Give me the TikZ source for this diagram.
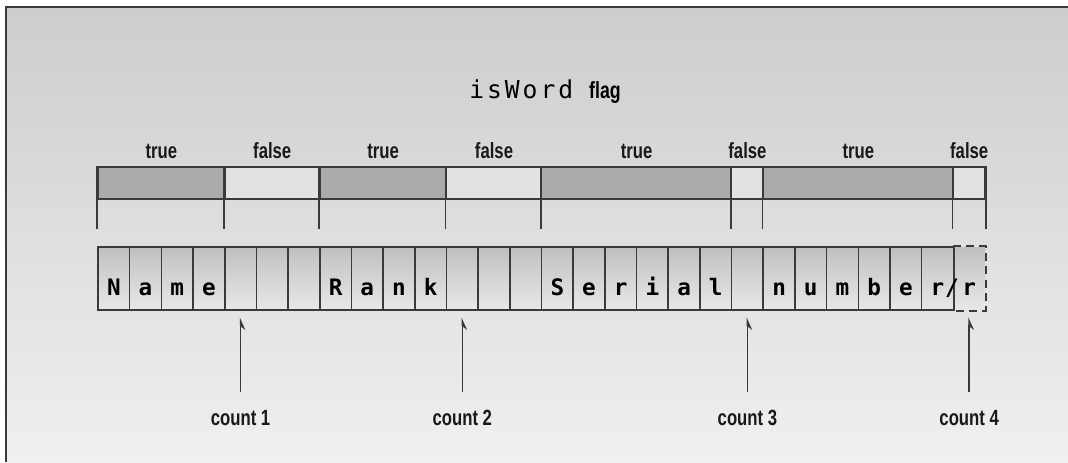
\documentclass[tikz,border=0pt]{standalone}
\usepackage{fontspec}
\setmainfont{Liberation Sans}
\newfontfamily\condfont[FakeStretch=0.76]{Liberation Sans}
\newfontfamily\cellfont{DejaVu Sans Mono}
\newfontfamily\codefont[LetterSpace=12]{DejaVu Sans Mono}
\usetikzlibrary{arrows.meta,calc}

\definecolor{ink}{HTML}{3A3A3A}
\definecolor{bgtop}{HTML}{CDCDCD}
\definecolor{bgbot}{HTML}{F0F0F0}
\definecolor{celltop}{HTML}{C0C0C0}
\definecolor{cellbot}{HTML}{E8E8E8}
\definecolor{flagon}{HTML}{ABABAB}
\definecolor{flagoff}{HTML}{E2E2E2}

\tikzset{
  cellbox/.style={draw=ink, line width=1.2pt, top color=celltop, bottom color=cellbot,
    minimum width=23.76pt, minimum height=47.25pt, inner sep=0pt,
    text height=27pt, text depth=2.25pt,
    font=\cellfont\bfseries\fontsize{17}{17}\selectfont},
  lastcell/.style={cellbox, draw=none},
  flagtrue/.style={draw=ink, line width=1.2pt, fill=flagon, minimum height=24pt, inner sep=0pt},
  flagfalse/.style={draw=ink, line width=1.2pt, fill=flagoff, minimum height=24pt, inner sep=0pt},
  flaglabel/.style={anchor=base, inner sep=0pt, text=black!90,
    font=\condfont\bfseries\fontsize{16.5}{16.5}\selectfont},
  countlabel/.style={flaglabel},
  tick/.style={draw=ink, line width=1.2pt},
  ptr/.style={draw=ink, line width=1.1pt, -{Stealth[length=8pt,width=7pt,harpoon,swap]}}
}

\begin{document}
\begin{tikzpicture}[x=0.75pt, y=-0.75pt]
  \useasboundingbox (0,0) rectangle (1068,462);
  % page and framed backdrop
  \fill[white] (0,0) rectangle (1068,462);
  \shade[top color=bgtop, bottom color=bgbot] (7,8) rectangle (1068,462);
  \draw[ink, line width=1.5pt] (6,462) -- (6,7) -- (1068,7);

  % title
  \node[anchor=base, inner sep=0pt] (title) at (545,98)
    {{\codefont\fontsize{18.5}{18.5}\selectfont isWord}\hspace{12pt}{\condfont\bfseries\fontsize{17.5}{17.5}\selectfont flag}};

  % character cells
  \foreach \ch [count=\i] in {N,a,m,e,{},{},{},R,a,n,k,{},{},{},S,e,r,i,a,l,{},n,u,m,b,e,r}
    \node[cellbox] (c\i) at ({98+(\i-0.5)*31.68}, 278.5) {\ch};
  \node[lastcell] (c28) at ({98+27.5*31.68}, 278.5) {r};
  \draw[ink, line width=1.2pt] (c27.north east) -- (c27.south east);
  \draw[ink, line width=1.2pt, dash pattern=on 6pt off 4pt]
    (c28.north west) -- (c28.north east) -- (c28.south east) -- (c28.south west);
  \node[anchor=base, inner sep=0pt, font=\cellfont\bfseries\fontsize{17}{17}\selectfont] (slash) at (952,295) {/};

  % isWord flag segments
  \foreach \a/\b/\v [count=\k] in {1/4/true,5/7/false,8/11/true,12/14/false,15/20/true,21/21/false,22/27/true,28/28/false}{
    \pgfmathsetmacro{\segmid}{98+(\a+\b-1)/2*31.68}
    \pgfmathsetmacro{\segw}{(\b-\a+1)*31.68*0.75}
    \node[flag\v, minimum width=\segw pt] (f\k) at (\segmid,183) {};
    \node[flaglabel] (l\k) at (\segmid,158) {\v};
    \draw[tick] (f\k.north west) -- ++(0,63);
  }
  \draw[tick] (f8.north east) -- ++(0,63);

  % count pointers
  \foreach \c/\n in {5/1,12/2,21/3,28/4}{
    \node[countlabel] (n\n) at (c\c |- 0,425) {count \n};
    \draw[ptr, shorten <=13pt, shorten >=5pt] (n\n.north) -- (c\c.south);
  }
\end{tikzpicture}
\end{document}
